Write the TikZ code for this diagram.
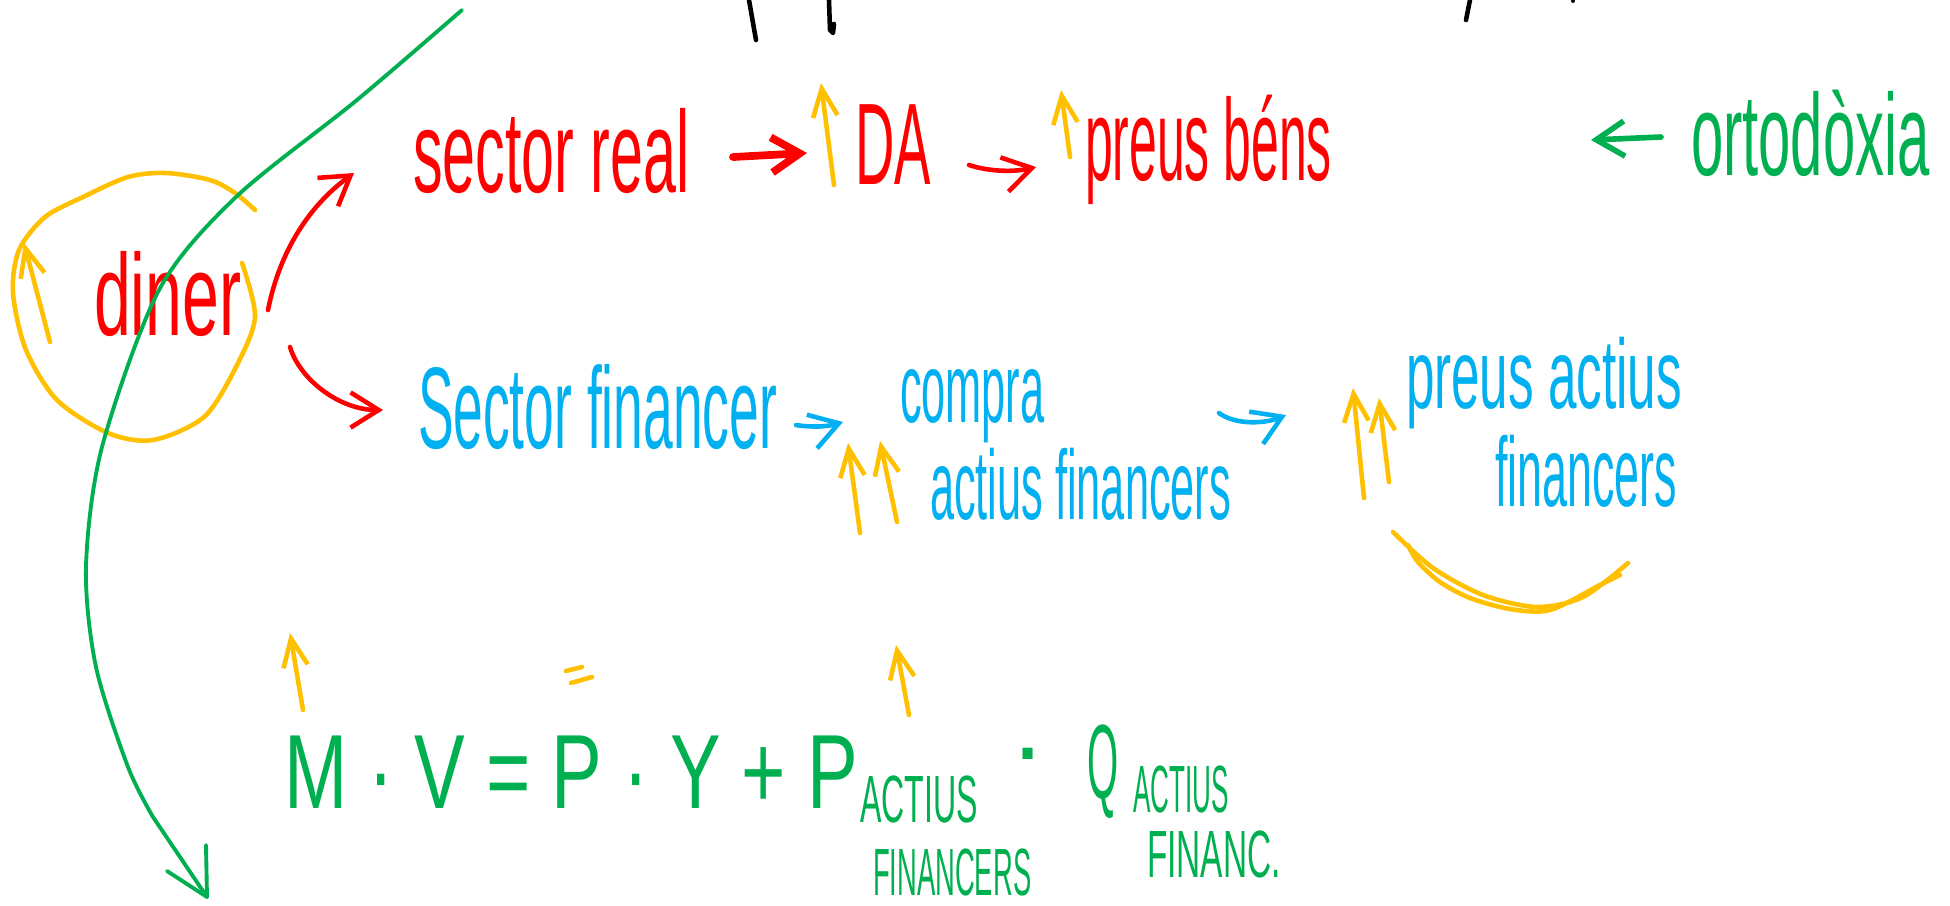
\documentclass[tikz,border=0pt]{standalone}
\usepackage{fontspec}
\setmainfont{Liberation Sans}
\usepackage{graphicx}
\usetikzlibrary{arrows.meta,calc}
\definecolor{hred}{HTML}{FF0000}
\definecolor{hblue}{HTML}{00B0F0}
\definecolor{hyel}{HTML}{FFC000}
\definecolor{hgreen}{HTML}{00B050}
\newcommand{\hw}[2]{\scalebox{#1}[1]{#2}}
\begin{document}
\begin{tikzpicture}[x=0.01cm,y=-0.01cm,
  pen/.style={line width=1.3pt,line cap=round,line join=round},
  txt/.style={inner sep=0pt,outer sep=0pt,anchor=base west,font=\fontsize{33}{36}\selectfont},
  smalltxt/.style={txt,font=\fontsize{28}{32}\selectfont},
  eqtxt/.style={txt,font=\fontsize{30}{34}\selectfont},
  subtxt/.style={txt,font=\fontsize{19}{22}\selectfont},
  barb/.style={-{Straight Barb[length=8pt,width=10pt]}},
  upbarb/.style={-{Straight Barb[length=8pt,width=7pt]}}]
\fill[white] (0,0) rectangle (1950,905);
\useasboundingbox (0,0) rectangle (1950,905);

% black fragments at the top edge
\draw[pen,black] (749,0) -- (756,40);
\draw[pen,black] (829,0) -- (830,30) -- (833,33) -- (834,24);
\draw[pen,black] (1470,0) -- (1466,20);
\fill[black] (1573,1) circle (2);

% texts
\node[txt,text=hred] (diner) at (94,335) {\hw{0.57}{diner}};
\node[txt,text=hred] (sr) at (413,192) {\hw{0.51}{sector real}};
\node[txt,text=hred] (da) at (855,184) {\hw{0.47}{DA}};
\node[txt,text=hred] (pb) at (1085,180) {\hw{0.43}{preus béns}};
\node[txt,text=hgreen] (ort) at (1691,175) {\hw{0.50}{ortodòxia}};
\node[txt,text=hblue] (sf) at (418,448) {\hw{0.46}{Sector financer}};
\node[smalltxt,text=hblue] (compra) at (900,422) {\hw{0.44}{compra}};
\node[smalltxt,text=hblue] (actfin) at (930,519) {\hw{0.44}{actius financers}};
\node[smalltxt,text=hblue] (pa) at (1406,408) {\hw{0.52}{preus actius}};
\node[smalltxt,text=hblue] (pafin) at (1495,506) {\hw{0.455}{financers}};

% equation
\node[eqtxt,text=hgreen] (eq) at (284,808) {\hw{0.72}{M · V = P · Y + P}};
\node[subtxt,text=hgreen] (sub1) at (860,822) {\hw{0.48}{ACTIUS}};
\node[subtxt,text=hgreen] (sub1b) at (873,895) {\hw{0.41}{FINANCERS}};
\node[eqtxt,text=hgreen,anchor=center] (dot2) at (1028,765) {·};
\node[eqtxt,text=hgreen] (q) at (1087,798) {\hw{0.38}{Q}};
\node[subtxt,text=hgreen] (sub2) at (1133,812) {\hw{0.39}{ACTIUS}};
\node[subtxt,text=hgreen] (sub2b) at (1147,877) {\hw{0.5}{FINANC.}};

% yellow circle round diner
\draw[pen,hyel] plot[smooth] coordinates {(242,263) (255,317) (236,367) (204,417) (153,440) (108,433) (57,400) (26,350) (13,293) (19,250) (45,217) (83,197) (128,177) (166,173) (210,180) (235,193) (255,210)};
\draw[pen,hyel,upbarb] (50,342) -- (24,243);

% long green curve
\coordinate (gend) at (207,897);
\draw[pen,hgreen,line width=1.1pt] plot[smooth] coordinates {(462,10) (357,100) (236,197) (159,290) (102,447) (86,567) (96,667) (128,767) (153,817)} -- (gend);
\draw[pen,hgreen,line width=1.1pt] (206,845) -- (gend) -- (167,871);

% red connectors
\draw[pen,hred,barb] ($(diner.base west)+(174,-25)$) .. controls (280,250) and (310,205) .. ($(sr.base west)+(-59,-19)$);
\draw[pen,hred,barb] ($(diner.base west)+(196,12)$) .. controls (300,380) and (340,410) .. ($(sf.base west)+(-35,-38)$);
\draw[pen,hred,barb,line width=2.2pt] ($(sr.base west)+(320,-35)$) -- ($(da.base west)+(-48,-31)$);
\draw[pen,hred,barb] ($(da.base west)+(114,-19)$) .. controls (990,172) and (1015,172) .. ($(pb.base west)+(-49,-13)$);

% blue connectors
\draw[pen,hblue,barb] ($(sf.base west)+(378,-23)$) .. controls (815,428) and (830,426) .. ($(compra.base west)+(-57,0)$);
\draw[pen,hblue,barb] ($(actfin.base west)+(289,-106)$) .. controls (1235,425) and (1265,424) .. ($(pa.base west)+(-120,7)$);

% green arrow to ortodoxia
\coordinate (ortend) at (1591,140);
\draw[pen,hgreen,barb,line width=1.6pt] ($(ort.base west)+(-30,-38)$) -- (ortend);

% yellow up arrows
\draw[pen,hyel,upbarb] (834,185) -- (821,83);
\draw[pen,hyel,upbarb] (1070,157) -- (1061,90);
\draw[pen,hyel,upbarb] (860,533) -- (848,443);
\draw[pen,hyel,upbarb] (897,522) -- (880,441);
\draw[pen,hyel,upbarb] (1364,498) -- (1353,388);
\draw[pen,hyel,upbarb] (1389,482) -- (1379,398);
\draw[pen,hyel,upbarb] (303,710) -- (290,633);
\draw[pen,hyel,upbarb] (909,715) -- (896,645);

% small yellow equals sign
\draw[pen,hyel] (566,671) -- (582,667);
\draw[pen,hyel] (571,683) -- (592,677);

% yellow swoosh under preus actius financers
\draw[pen,hyel] plot[smooth] coordinates {(1393,532) (1433,568) (1483,595) (1537,607) (1583,597) (1628,563)};
\draw[pen,hyel] plot[smooth] coordinates {(1408,545) (1418,562) (1440,582) (1470,598) (1510,609) (1550,610) (1600,585) (1620,575)};
\end{tikzpicture}
\end{document}
